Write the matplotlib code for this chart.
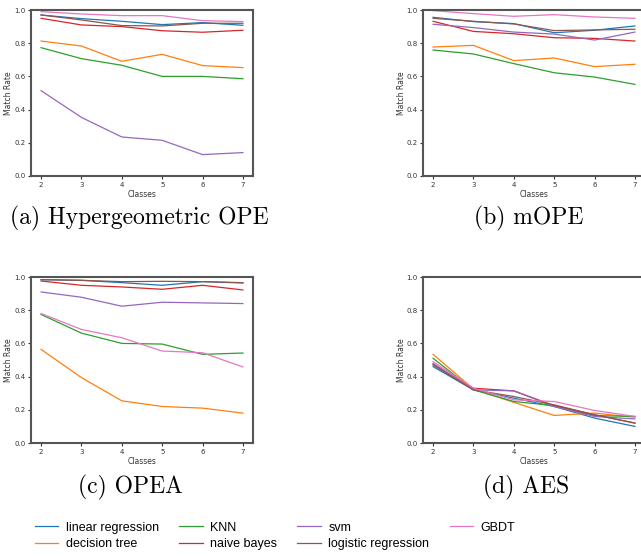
import matplotlib
matplotlib.use("Agg")
import matplotlib.pyplot as plt

classes = [2, 3, 4, 5, 6, 7]
methods = ["linear regression", "decision tree", "KNN", "naive bayes",
           "svm", "logistic regression", "GBDT"]
colors = ["#1f77b4", "#ff7f0e", "#2ca02c", "#d62728", "#9467bd", "#8c564b", "#e377c2"]

# (a) Hypergeometric OPE
hyper_lr = [0.970, 0.948, 0.932, 0.912, 0.924, 0.908]
hyper_dt = [0.813, 0.783, 0.691, 0.733, 0.665, 0.653]
hyper_knn = [0.773, 0.707, 0.667, 0.600, 0.600, 0.586]
hyper_nb = [0.950, 0.910, 0.900, 0.875, 0.866, 0.878]
hyper_svm = [0.514, 0.353, 0.235, 0.215, 0.129, 0.141]
hyper_logr = [0.970, 0.940, 0.906, 0.904, 0.920, 0.920]
hyper_gbdt = [0.990, 0.976, 0.966, 0.966, 0.936, 0.930]

# (b) mOPE
mope_lr = [0.956, 0.930, 0.918, 0.863, 0.878, 0.904]
mope_dt = [0.777, 0.787, 0.695, 0.711, 0.659, 0.673]
mope_knn = [0.759, 0.735, 0.677, 0.622, 0.596, 0.552]
mope_nb = [0.932, 0.871, 0.857, 0.833, 0.829, 0.813]
mope_svm = [0.914, 0.894, 0.867, 0.855, 0.819, 0.867]
mope_logr = [0.950, 0.932, 0.916, 0.876, 0.880, 0.884]
mope_gbdt = [0.996, 0.978, 0.962, 0.972, 0.958, 0.950]

# (c) OPEA
opea_lr = [0.984, 0.980, 0.966, 0.950, 0.972, 0.964]
opea_dt = [0.564, 0.394, 0.254, 0.220, 0.210, 0.180]
opea_knn = [0.774, 0.662, 0.600, 0.596, 0.534, 0.542]
opea_nb = [0.976, 0.950, 0.940, 0.926, 0.950, 0.922]
opea_svm = [0.910, 0.878, 0.824, 0.848, 0.844, 0.840]
opea_logr = [0.984, 0.980, 0.972, 0.974, 0.972, 0.966]
opea_gbdt = [0.780, 0.684, 0.634, 0.554, 0.544, 0.458]

# (d) AES
aes_lr = [0.460, 0.320, 0.270, 0.220, 0.150, 0.100]
aes_dt = [0.534, 0.325, 0.245, 0.166, 0.180, 0.155]
aes_knn = [0.510, 0.320, 0.250, 0.225, 0.165, 0.160]
aes_nb = [0.474, 0.330, 0.314, 0.225, 0.170, 0.120]
aes_svm = [0.480, 0.320, 0.314, 0.220, 0.160, 0.145]
aes_logr = [0.470, 0.320, 0.280, 0.230, 0.170, 0.120]
aes_gbdt = [0.490, 0.330, 0.260, 0.250, 0.196, 0.160]

panels = [
    ("(a) Hypergeometric OPE", [hyper_lr, hyper_dt, hyper_knn, hyper_nb, hyper_svm, hyper_logr, hyper_gbdt]),
    ("(b) mOPE", [mope_lr, mope_dt, mope_knn, mope_nb, mope_svm, mope_logr, mope_gbdt]),
    ("(c) OPEA", [opea_lr, opea_dt, opea_knn, opea_nb, opea_svm, opea_logr, opea_gbdt]),
    ("(d) AES", [aes_lr, aes_dt, aes_knn, aes_nb, aes_svm, aes_logr, aes_gbdt]),
]

W, H = 641, 556
fig = plt.figure(figsize=(W / 100, H / 100), dpi=100)

# axes boxes in pixels: (left, top, width, height)
boxes = [(31, 10, 222, 166), (423, 10, 222, 166), (31, 277, 222, 166), (423, 277, 222, 166)]
captions_xy = [(139, 218), (529, 218), (130, 487), (526, 487)]

handles = []
for i, ((caption, series), (l, t, w, h)) in enumerate(zip(panels, boxes)):
    ax = fig.add_axes([l / W, 1 - (t + h) / H, w / W, h / H])
    for vals, c, name in zip(series, colors, methods):
        ln, = ax.plot(classes, vals, color=c, lw=0.9, label=name)
        if i == 0:
            handles.append(ln)
    ax.set_xlim(1.75, 7.25)
    ax.set_ylim(0, 1.0)
    ax.set_xticks(classes)
    ax.set_yticks([0, 0.2, 0.4, 0.6, 0.8, 1.0])
    ax.tick_params(labelsize=5, length=2, width=0.8, pad=2, colors="#333333")
    ax.set_xlabel("Classes", fontsize=5.5, labelpad=2, color="#333333")
    ax.set_ylabel("Match Rate", fontsize=5.5, labelpad=0.5, color="#333333")
    for s in ax.spines.values():
        s.set_color("#555555")
        s.set_linewidth(1.5)
    cx, cy = captions_xy[i]
    fig.text(cx / W, 1 - cy / H, caption, fontfamily="cmr10", fontsize=17,
             ha="center", va="center")

fig.legend(handles, methods, ncol=4, frameon=False,
           prop={"family": "Liberation Sans", "size": 9},
           loc="center", bbox_to_anchor=(275 / W, 1 - 536 / H),
           handlelength=1.9, columnspacing=1.6, labelspacing=0.35, handletextpad=0.6)

fig.savefig("out.png", dpi=100)
